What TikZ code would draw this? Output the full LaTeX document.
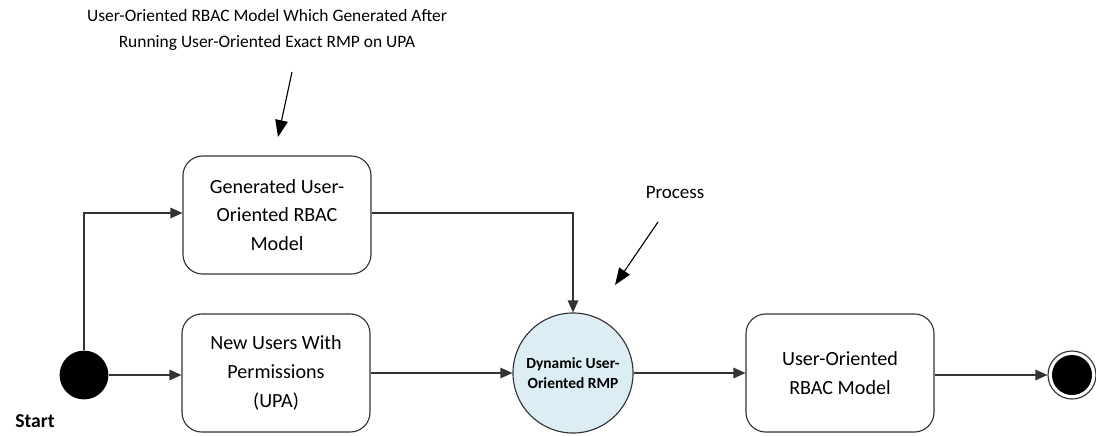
\documentclass[tikz,border=0pt]{standalone}
\usepackage{fontspec}
\setmainfont{Carlito}
\usepackage{tikz}
\usetikzlibrary{arrows.meta,positioning}

\definecolor{procblue}{HTML}{DCEEF4}
\definecolor{lineg}{HTML}{333333}

\tikzset{
  statebox/.style={draw=lineg,thick,rounded corners=14pt,minimum width=4.7cm,minimum height=2.95cm,
    align=center,font=\fontsize{14.3}{20.5}\selectfont,inner sep=2pt},
  flow/.style={draw=lineg,thick,-{Triangle[length=8.5pt,width=7.5pt]}},
  note/.style={draw=black,thick,-{Triangle[length=12pt,width=9pt]}},
}

\begin{document}
\begin{tikzpicture}[x=0.025cm,y=-0.025cm]
\useasboundingbox (0,0) rectangle (1096,435);
%nodes
\node[circle,fill=black,minimum size=1.22cm,inner sep=0pt] (start) at (84,375) {};
\node[font=\fontsize{14}{16}\selectfont\bfseries] (startlbl) at (35,421) {Start};
\node[statebox] (gen) at (277,215) {Generated User-\\Oriented RBAC\\Model};
\node[statebox] (upa) at (276,373) {New Users With\\Permissions\\(UPA)};
\node[circle,draw=lineg,thick,fill=procblue,minimum size=3cm,inner sep=0pt,align=center,
  font=\fontsize{11}{14.5}\selectfont\bfseries] (rmp) at (573,373) {Dynamic User-\\Oriented RMP};
\node[statebox] (model) at (840,373) {User-Oriented\\RBAC Model};
\node[circle,draw=lineg,thick,minimum size=1.2cm,inner sep=0pt] (end) at (1072,375) {};
\node[circle,fill=black,minimum size=1cm,inner sep=0pt] (endin) at (end) {};
%notes
\node[align=center,font=\fontsize{12.4}{18}\selectfont] (note1) at (267,30)
  {User-Oriented RBAC Model Which Generated After\\Running User-Oriented Exact RMP on UPA};
\node[font=\fontsize{13.5}{15}\selectfont] (note2) at (675,192) {Process};
\coordinate (n1a) at (292,72);
\coordinate (n1b) at (278,137);
\coordinate (n2a) at (658,222);
\coordinate (n2b) at (615,285);
%connectors
\draw[flow] (start.north) |- (gen.west |- 0,213);
\draw[flow] (start) -- (upa.west |- start);
\draw[flow] (gen.east |- 0,213) -| (rmp.north);
\draw[flow] (upa) -- (rmp);
\draw[flow] (rmp) -- (model);
\draw[flow] (model.east |- end) -- (end);
\draw[note] (n1a) -- (n1b);
\draw[note] (n2a) -- (n2b);
\end{tikzpicture}
\end{document}
